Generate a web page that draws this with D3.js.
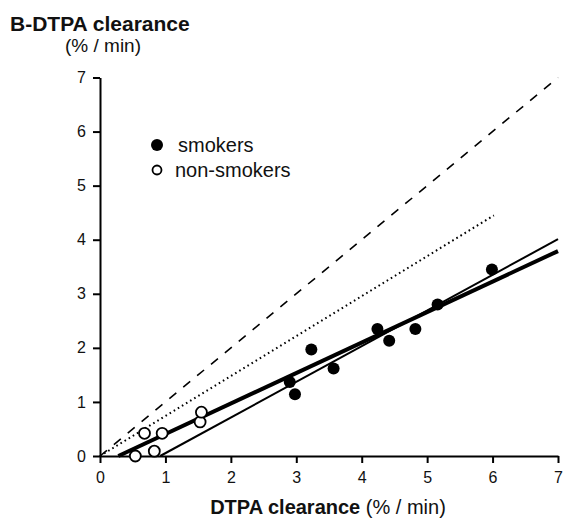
<!DOCTYPE html>
<html>
<head>
<meta charset="utf-8">
<script src="https://cdn.jsdelivr.net/npm/d3@7"></script>
<style>
  body { margin: 0; background: #fff; }
  svg { font-family: "Liberation Sans", Arial, sans-serif; }
</style>
</head>
<body>
<div id="chart"></div>
<script>
// smokers (filled circles)
const smokersX = [2.90, 2.98, 3.23, 3.57, 4.24, 4.42, 4.82, 5.16, 5.99];
const smokersY = [1.37, 1.14, 1.97, 1.62, 2.35, 2.13, 2.35, 2.80, 3.45];
// non-smokers (open circles)
const nonSmokersX = [0.54, 0.68, 0.83, 0.95, 1.53, 1.55];
const nonSmokersY = [0.00, 0.42, 0.09, 0.42, 0.63, 0.81];
// reference / fitted lines: [x1, y1, x2, y2]
const identityLine = [0, 0, 7, 7];
const dottedLine = [0, 0, 6.02, 4.45];
const thickLine = [0.28, 0, 7, 3.79];
const thinLine = [0.92, 0, 7, 4.01];
const tickValues = [0, 1, 2, 3, 4, 5, 6, 7];

const width = 564, height = 523;
const svg = d3.select('#chart').append('svg')
  .attr('width', width)
  .attr('height', height);

const x = d3.scaleLinear().domain([0, 7]).range([100, 558]);
const y = d3.scaleLinear().domain([0, 7]).range([456, 77.5]);

// axes
const xAxis = svg.append('g')
  .attr('transform', `translate(0,${y(0)})`)
  .call(d3.axisBottom(x).tickValues(tickValues).tickFormat(d3.format('d'))
    .tickSize(7).tickPadding(9).tickSizeOuter(0));
const yAxis = svg.append('g')
  .attr('transform', `translate(${x(0)},0)`)
  .call(d3.axisLeft(y).tickValues(tickValues).tickFormat(d3.format('d'))
    .tickSize(7).tickPadding(7).tickSizeOuter(0));

[xAxis, yAxis].forEach(g => {
  g.select('.domain').attr('stroke', '#000').attr('stroke-width', 2);
  g.selectAll('.tick line').attr('stroke', '#000').attr('stroke-width', 2);
  g.selectAll('.tick text')
    .attr('fill', '#111')
    .style('font-size', '16px')
    .style('font-family', '"Liberation Sans", Arial, sans-serif');
});

// lines
function drawLine(l, w, dash) {
  svg.append('line')
    .attr('x1', x(l[0])).attr('y1', y(l[1]))
    .attr('x2', x(l[2])).attr('y2', y(l[3]))
    .attr('stroke', '#000')
    .attr('stroke-width', w)
    .attr('stroke-dasharray', dash);
}
drawLine(identityLine, 1.6, '9,9');
drawLine(dottedLine, 2, '1.6,3.2');
drawLine(thinLine, 2, null);
drawLine(thickLine, 4, null);

// points
svg.selectAll('.smoker')
  .data(d3.zip(smokersX, smokersY))
  .enter()
  .append('circle')
  .attr('class', 'smoker')
  .attr('cx', d => x(d[0]))
  .attr('cy', d => y(d[1]))
  .attr('r', 6)
  .attr('fill', '#000');

svg.selectAll('.nonsmoker')
  .data(d3.zip(nonSmokersX, nonSmokersY))
  .enter()
  .append('circle')
  .attr('class', 'nonsmoker')
  .attr('cx', d => x(d[0]))
  .attr('cy', d => y(d[1]))
  .attr('r', 5.5)
  .attr('fill', '#fff')
  .attr('stroke', '#000')
  .attr('stroke-width', 1.8);

// legend
svg.append('circle').attr('cx', 157).attr('cy', 145).attr('r', 6).attr('fill', '#000');
svg.append('text').attr('x', 178).attr('y', 152).style('font-size', '20px').attr('fill', '#111').text('smokers');
svg.append('circle').attr('cx', 157).attr('cy', 170).attr('r', 4.5)
  .attr('fill', '#fff').attr('stroke', '#000').attr('stroke-width', 1.8);
svg.append('text').attr('x', 175).attr('y', 177).style('font-size', '20px').attr('fill', '#111').text('non-smokers');

// y title
svg.append('text').attr('x', 10).attr('y', 31)
  .style('font-size', '21px').style('font-weight', 'bold').attr('fill', '#111')
  .text('B-DTPA clearance');
svg.append('text').attr('x', 103).attr('y', 52).attr('text-anchor', 'middle')
  .style('font-size', '19px').attr('fill', '#111')
  .text('(% / min)');

// x title
const xt = svg.append('text').attr('x', 328).attr('y', 514).attr('text-anchor', 'middle')
  .style('font-size', '20px').attr('fill', '#111');
xt.append('tspan').style('font-weight', 'bold').text('DTPA clearance');
xt.append('tspan').text(' (% / min)');
</script>
</body>
</html>
